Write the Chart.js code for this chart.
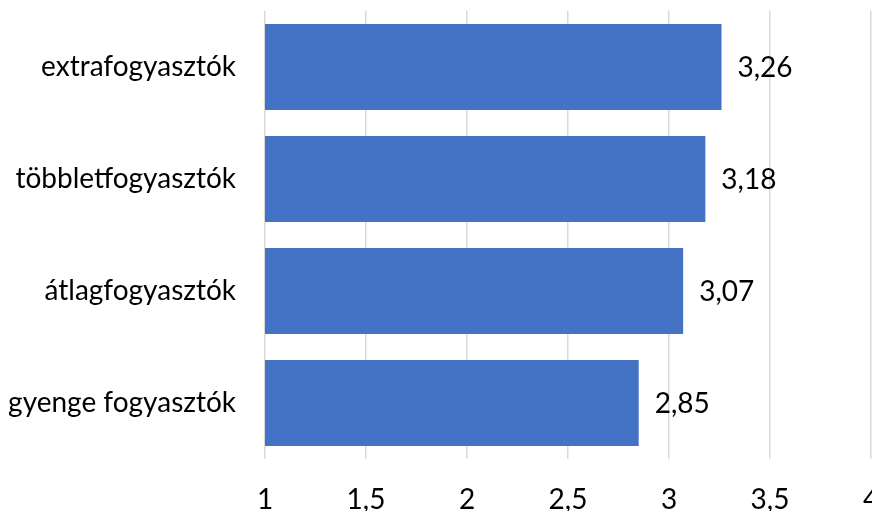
<!DOCTYPE html>
<html>
<head>
<meta charset="utf-8">
<script src="https://cdn.jsdelivr.net/npm/chart.js@4/dist/chart.umd.min.js"></script>
<style>
	html, body { margin: 0; padding: 0; background: #fff; overflow: hidden; }
	#wrap { width: 877px; height: 511px; }
</style>
</head>
<body>
<div id="wrap"><canvas id="chart" width="877" height="511"></canvas></div>
<script>
// Chart data
const categories = ['extrafogyasztók', 'többletfogyasztók', 'átlagfogyasztók', 'gyenge fogyasztók'];
const values = [3.26, 3.18, 3.07, 2.85];
const xTicks = [1, 1.5, 2, 2.5, 3, 3.5, 4];

const fontFamily = 'Lato, "Open Sans", sans-serif';
const huNumber = (v) => String(v).replace('.', ',');

// Value labels to the right of each bar
const barLabels = {
	id: 'barLabels',
	afterDatasetsDraw(chart) {
		const {ctx} = chart;
		const meta = chart.getDatasetMeta(0);
		ctx.save();
		ctx.font = `28px ${fontFamily}`;
		ctx.fillStyle = '#000';
		ctx.textAlign = 'left';
		ctx.textBaseline = 'middle';
		meta.data.forEach((bar, i) => {
			ctx.fillText(huNumber(values[i].toFixed(2)), bar.x + 16, bar.y + 1);
		});
		ctx.restore();
	},
};

new Chart(document.querySelector('#chart'), {
	type: 'bar',
	data: {
		labels: categories,
		datasets: [
			{
				data: values,
				backgroundColor: '#4472C4',
				borderWidth: 0,
				categoryPercentage: 1,
				barPercentage: 0.77,
			},
		],
	},
	options: {
		indexAxis: 'y',
		responsive: false,
		animation: false,
		devicePixelRatio: 1,
		layout: {padding: {top: 11, right: 6, bottom: 0, left: 0}},
		plugins: {legend: {display: false}, tooltip: {enabled: false}},
		scales: {
			x: {
				min: 1,
				max: 4,
				afterBuildTicks: (scale) => {
					scale.ticks = xTicks.map((v) => ({value: v}));
				},
				afterFit: (scale) => {
					scale.height = 52;
					scale.paddingLeft = 0;
					scale.paddingRight = 0;
				},
				grid: {color: '#d9d9d9', lineWidth: 1.5, drawTicks: false},
				border: {display: false},
				ticks: {
					padding: 24,
					maxRotation: 0,
					color: '#000',
					font: {family: fontFamily, size: 28},
					callback: (v) => huNumber(v),
				},
			},
			y: {
				grid: {display: false},
				border: {display: false},
				afterFit: (scale) => {
					scale.width = 265;
					scale.paddingTop = 0;
					scale.paddingBottom = 0;
				},
				ticks: {
					padding: 21,
					color: '#000',
					font: {family: fontFamily, size: 28},
				},
			},
		},
	},
	plugins: [barLabels],
});
</script>
</body>
</html>
